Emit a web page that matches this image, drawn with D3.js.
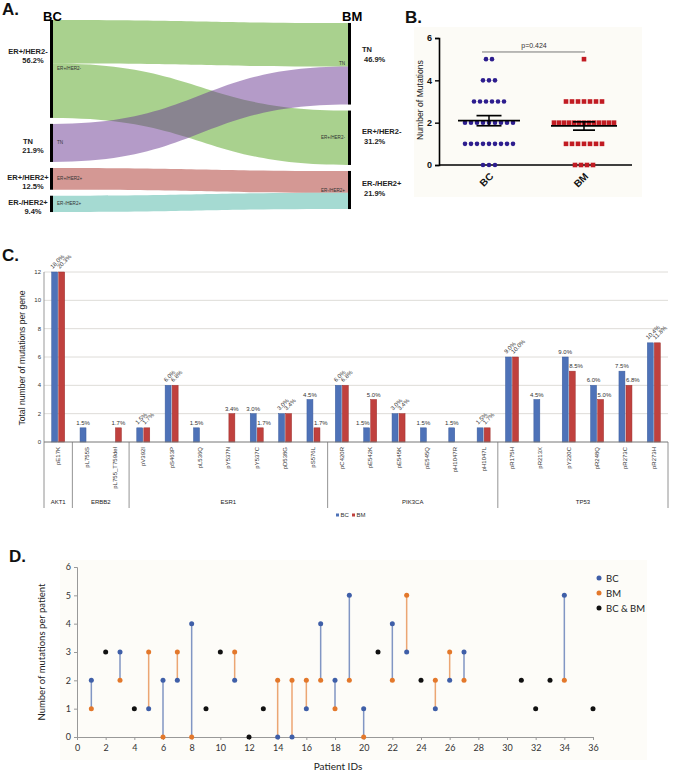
<!DOCTYPE html>
<html>
<head>
<meta charset="utf-8">
<script src="https://cdn.jsdelivr.net/npm/d3@7/dist/d3.min.js"></script>
<style>
html,body{margin:0;padding:0;background:#ffffff;}
svg{display:block;}
text{font-family:"Liberation Sans",Arial,Helvetica,sans-serif;}
.lato text, text.lato{font-family:Lato,"Open Sans",sans-serif;}
</style>
</head>
<body>
<svg id="fig" width="676" height="773"></svg>
<script>
// ================= DATA =================
// Panel A: subtype switch between BC and BM (patients)
const subtypesBC = ["ER+/HER2-", "TN", "ER+/HER2+", "ER-/HER2+"];
const subtypesBCPct = ["56.2%", "21.9%", "12.5%", "9.4%"];
const subtypesBM = ["TN", "ER+/HER2-", "ER-/HER2+"];
const subtypesBMPct = ["46.9%", "31.2%", "21.9%"];
const flowFrom = ["ER+/HER2-", "ER+/HER2-", "TN", "ER+/HER2+", "ER-/HER2+"];
const flowTo = ["TN", "ER+/HER2-", "TN", "ER-/HER2+", "ER-/HER2+"];
const flowPatients = [8, 10, 7, 4, 3];

// Panels B and D: mutations per patient
const groups = ["BC", "BM"];
const patientIds = [1,2,3,4,5,6,7,8,9,10,11,12,13,14,15,16,17,18,19,20,21,22,23,24,25,26,27,31,32,33,34,36];
const bcPerPatient = [2,3,3,1,1,2,2,4,1,3,2,0,1,0,0,1,4,2,5,1,3,4,3,2,1,2,3,2,1,2,5,1];
const bmPerPatient = [1,3,2,1,3,0,3,0,1,3,3,0,1,2,2,2,2,1,2,0,3,2,5,2,2,3,2,2,1,2,2,1];
const pValueText = "p=0.424";
const yTicksB = [0, 2, 4, 6];
const yTicksD = [0, 1, 2, 3, 4, 5, 6];
const xTicksD = [0,2,4,6,8,10,12,14,16,18,20,22,24,26,28,30,32,34,36];
const legendD = ["BC", "BM", "BC & BM"];

// Panel C: mutations per gene
const geneNames = ["AKT1", "ERBB2", "ESR1", "PIK3CA", "TP53"];
const mutationNames = ["pE17K","pL755S","pL755_T759del","pV392I","pS463P","pL536Q","pY537N","pY537C","pD538G","pS576L","pC420R","pE542K","pE545K","pE545Q","pH1047R","pH1047L","pR175H","pR213X","pY220C","pR248Q","pR273C","pR273H"];
const mutationGene = ["AKT1","ERBB2","ERBB2","ESR1","ESR1","ESR1","ESR1","ESR1","ESR1","ESR1","PIK3CA","PIK3CA","PIK3CA","PIK3CA","PIK3CA","PIK3CA","TP53","TP53","TP53","TP53","TP53","TP53"];
const bcPerMutation = [12,1,0,1,4,1,0,2,2,3,4,1,2,1,1,1,6,3,6,4,5,7];
const bmPerMutation = [12,0,1,1,4,0,2,1,2,1,4,3,2,0,0,1,6,0,5,3,4,7];
const bcPctLabels = ["18.0%","1.5%","","1.5%","6.0%","1.5%","","3.0%","3.0%","4.5%","6.0%","1.5%","3.0%","1.5%","1.5%","1.5%","9.0%","4.5%","9.0%","6.0%","7.5%","10.4%"];
const bmPctLabels = ["20.3%","","1.7%","1.7%","6.8%","","3.4%","1.7%","3.4%","1.7%","6.8%","5.0%","3.4%","","","1.7%","10.0%","","8.5%","5.0%","6.8%","11.8%"];
const yTicksC = [0, 2, 4, 6, 8, 10, 12];

// ================= DRAW =================
const svg = d3.select("#fig");

function panelLabel(t, x, y) {
  svg.append("text").attr("x", x).attr("y", y).attr("font-size", 17)
    .attr("font-weight", "bold").attr("fill", "#111").text(t);
}

// ---------- Panel A ----------
(function () {
  const g = svg.append("g");
  const nodeColor = {"ER+/HER2-": "#53a31d", "TN": "#693791", "ER+/HER2+": "#a93129", "ER-/HER2+": "#4bb5a5"};
  const xL = 53, xR = 348, centerY = 116, gap = 6;
  const h = d3.scaleLinear().domain([0, 1]).range([0, 5.44]);

  const leftCount = subtypesBC.map(s => d3.sum(flowPatients.filter((v, i) => flowFrom[i] === s)));
  const rightCount = subtypesBM.map(s => d3.sum(flowPatients.filter((v, i) => flowTo[i] === s)));

  function layout(names, counts) {
    const total = h(d3.sum(counts)) + gap * (names.length - 1);
    let y = centerY - total / 2;
    const out = {};
    names.forEach((n, i) => {
      out[n] = {name: n, y0: y, y1: y + h(counts[i]), cursor: y};
      y = out[n].y1 + gap;
    });
    return out;
  }
  const L = layout(subtypesBC, leftCount);
  const R = layout(subtypesBM, rightCount);

  const xm = (xL + xR) / 2;
  flowPatients.forEach((v, i) => {
    const s = L[flowFrom[i]], t = R[flowTo[i]];
    const s0 = s.cursor, s1 = s0 + h(v); s.cursor = s1;
    const t0 = t.cursor, t1 = t0 + h(v); t.cursor = t1;
    const p = d3.path();
    p.moveTo(xL, s0);
    p.bezierCurveTo(xm, s0, xm, t0, xR, t0);
    p.lineTo(xR, t1);
    p.bezierCurveTo(xm, t1, xm, s1, xL, s1);
    p.closePath();
    g.append("path").attr("d", p.toString()).attr("fill", nodeColor[flowFrom[i]]).attr("fill-opacity", 0.5);
  });

  // node bars
  Object.values(L).forEach(n => g.append("rect").attr("x", xL - 3).attr("y", n.y0).attr("width", 3).attr("height", n.y1 - n.y0).attr("fill", "#000"));
  Object.values(R).forEach(n => g.append("rect").attr("x", xR).attr("y", n.y0).attr("width", 3).attr("height", n.y1 - n.y0).attr("fill", "#000"));

  // inner small labels
  Object.values(L).forEach(n => g.append("text").attr("x", xL + 4).attr("y", (n.y0 + n.y1) / 2 + 1.5)
    .attr("font-size", 4.6).attr("fill", "#333").text(n.name));
  Object.values(R).forEach(n => g.append("text").attr("x", xR - 3).attr("y", (n.y0 + n.y1) / 2 + 1.5)
    .attr("text-anchor", "end").attr("font-size", 4.6).attr("fill", "#333").text(n.name));

  // outer labels
  subtypesBC.forEach((s, i) => {
    const n = L[s], c = (n.y0 + n.y1) / 2;
    const by = Math.min(c + 1, n.y0 + 34);
    g.append("text").attr("x", 28).attr("y", by).attr("text-anchor", "middle").attr("font-size", 7.5)
      .attr("font-weight", "bold").attr("fill", "#222").text(s);
    g.append("text").attr("x", 33).attr("y", by + 9).attr("text-anchor", "middle").attr("font-size", 7.5)
      .attr("font-weight", "bold").attr("fill", "#222").text(subtypesBCPct[i]);
  });
  subtypesBM.forEach((s, i) => {
    const n = R[s], c = (n.y0 + n.y1) / 2;
    const by = Math.min(c - 4, n.y0 + 29);
    g.append("text").attr("x", 362).attr("y", by).attr("font-size", 7.5)
      .attr("font-weight", "bold").attr("fill", "#222").text(s);
    g.append("text").attr("x", 364).attr("y", by + 10).attr("font-size", 7.5)
      .attr("font-weight", "bold").attr("fill", "#222").text(subtypesBMPct[i]);
  });

  g.append("text").attr("x", 43).attr("y", 21).attr("font-size", 13).attr("font-weight", "bold").text("BC");
  g.append("text").attr("x", 342).attr("y", 21).attr("font-size", 13).attr("font-weight", "bold").text("BM");
  panelLabel("A.", 2, 15);
})();

// ---------- Panel B ----------
(function () {
  const g = svg.append("g");
  g.append("rect").attr("x", 414).attr("y", 27).attr("width", 228).attr("height", 170).attr("fill", "#fcfbf6");
  const y = d3.scaleLinear().domain([0, 6]).range([165, 38]);
  const x = d3.scalePoint().domain(groups).range([489, 584]);
  const data = {BC: bcPerPatient, BM: bmPerPatient};

  const ax = g.append("g").attr("transform", "translate(439,0)")
    .call(d3.axisLeft(y).tickValues(yTicksB).tickSize(4).tickFormat(d3.format("d")));
  ax.select(".domain").attr("stroke", "#000").attr("stroke-width", 1.6);
  ax.selectAll(".tick line").attr("stroke", "#000").attr("stroke-width", 1.4);
  ax.selectAll(".tick text").attr("font-size", 9).attr("font-weight", "bold").attr("fill", "#111")
    .attr("font-family", "Liberation Sans, Arial, sans-serif");
  g.append("line").attr("x1", 439).attr("x2", 632).attr("y1", y(0)).attr("y2", y(0)).attr("stroke", "#000").attr("stroke-width", 1.6);

  groups.forEach(gr => {
    const vals = data[gr];
    const cx = x(gr);
    d3.range(0, 7).forEach(v => {
      const n = vals.filter(d => d === v).length;
      if (!n) return;
      const sp = n > 1 ? Math.min(6, 60 / (n - 1)) : 0;
      d3.range(n).forEach(j => {
        const px = cx + (j - (n - 1) / 2) * sp;
        if (gr === "BC") {
          g.append("circle").attr("cx", px).attr("cy", y(v)).attr("r", 2.3).attr("fill", "#2d1d8e");
        } else {
          g.append("rect").attr("x", px - 2.3).attr("y", y(v) - 2.3).attr("width", 4.6).attr("height", 4.6).attr("fill", "#c11b22");
        }
      });
    });
    const m = d3.mean(vals), sem = d3.deviation(vals) / Math.sqrt(vals.length);
    const half = gr === "BC" ? 31 : 33, cap = gr === "BC" ? 12.5 : 11;
    g.append("line").attr("x1", cx - half).attr("x2", cx + half).attr("y1", y(m)).attr("y2", y(m)).attr("stroke", "#000").attr("stroke-width", 1.7);
    g.append("line").attr("x1", cx).attr("x2", cx).attr("y1", y(m - sem)).attr("y2", y(m + sem)).attr("stroke", "#000").attr("stroke-width", 1.5);
    [m - sem, m + sem].forEach(e => g.append("line").attr("x1", cx - cap).attr("x2", cx + cap).attr("y1", y(e)).attr("y2", y(e)).attr("stroke", "#000").attr("stroke-width", 1.7));
    g.append("text").attr("transform", `translate(${cx + 5},${177}) rotate(-45)`).attr("text-anchor", "end")
      .attr("font-size", 10).attr("font-weight", "bold").attr("fill", "#111").text(gr);
  });

  g.append("line").attr("x1", 482).attr("x2", 585).attr("y1", y(5.34)).attr("y2", y(5.34)).attr("stroke", "#777").attr("stroke-width", 1);
  g.append("text").attr("x", 534).attr("y", y(5.34) - 4).attr("text-anchor", "middle").attr("font-size", 7).attr("fill", "#333").text(pValueText);
  g.append("text").attr("transform", "translate(423,100) rotate(-90)").attr("text-anchor", "middle")
    .attr("font-size", 8.6).attr("fill", "#222").text("Number of Mutations");
  panelLabel("B.", 405, 23);
})();

// ---------- Panel C ----------
(function () {
  const g = svg.append("g");
  const x = d3.scaleBand().domain(mutationNames).range([44, 668]);
  const bw = x.bandwidth();
  const xi = d3.scaleBand().domain(groups).range([bw / 2 - 6.5, bw / 2 + 6.5]).paddingInner(0.15);
  const y = d3.scaleLinear().domain([0, 12]).range([442, 272]);
  const col = {BC: "#4e72b8", BM: "#c0413e"}, stk = {BC: "#3b5c9c", BM: "#9c2f2c"};

  yTicksC.forEach(t => {
    if (t > 0) g.append("line").attr("x1", 44).attr("x2", 668).attr("y1", y(t)).attr("y2", y(t)).attr("stroke", "#dedcd8").attr("stroke-width", 1);
    g.append("text").attr("x", 41).attr("y", y(t) + 2).attr("text-anchor", "end").attr("font-size", 6).attr("fill", "#333").text(t);
  });
  g.append("line").attr("x1", 44).attr("x2", 44).attr("y1", 272).attr("y2", 442).attr("stroke", "#999");

  mutationNames.forEach((m, i) => {
    const vals = {BC: bcPerMutation[i], BM: bmPerMutation[i]};
    const labs = {BC: bcPctLabels[i], BM: bmPctLabels[i]};
    const rotated = vals.BC === vals.BM && vals.BC > 0;
    const both = vals.BC > 0 && vals.BM > 0;
    groups.forEach(gr => {
      const v = vals[gr];
      if (!v) return;
      const bx = x(m) + xi(gr);
      g.append("rect").attr("x", bx).attr("y", y(v)).attr("width", xi.bandwidth()).attr("height", y(0) - y(v))
        .attr("fill", col[gr]).attr("stroke", stk[gr]).attr("stroke-width", 0.5);
      if (rotated) {
        g.append("text").attr("transform", `translate(${bx + 1},${y(v) - 3}) rotate(-45)`)
          .attr("font-size", 6).attr("fill", "#333").text(labs[gr]);
      } else {
        // the lower bar of a pair gets its label pushed away from the taller neighbour
        const other = gr === "BC" ? vals.BM : vals.BC;
        let lx = bx + xi.bandwidth() / 2, anchor = "middle";
        if (both && v < other) {
          if (gr === "BM") { lx = bx; anchor = "start"; } else { lx = bx + xi.bandwidth(); anchor = "end"; }
        }
        g.append("text").attr("x", lx).attr("y", y(v) - 3).attr("text-anchor", anchor)
          .attr("font-size", 6).attr("fill", "#333").text(labs[gr]);
      }
    });
    g.append("text").attr("transform", `translate(${x(m) + bw / 2 + 2},447) rotate(-90)`).attr("text-anchor", "end")
      .attr("font-size", 6).attr("fill", "#333").text(m);
  });
  g.append("line").attr("x1", 44).attr("x2", 668).attr("y1", 442).attr("y2", 442).attr("stroke", "#777");

  // gene groups
  const bounds = new Set([44, 668]);
  geneNames.forEach(gn => {
    const idx = mutationNames.map((m, i) => i).filter(i => mutationGene[i] === gn);
    const a = x(mutationNames[idx[0]]), b = x(mutationNames[idx[idx.length - 1]]) + bw;
    bounds.add(a); bounds.add(b);
    g.append("text").attr("x", (a + b) / 2).attr("y", 504).attr("text-anchor", "middle").attr("font-size", 6).attr("fill", "#222").text(gn);
  });
  [...bounds].forEach(bx => g.append("line").attr("x1", bx).attr("x2", bx).attr("y1", 442).attr("y2", 508).attr("stroke", "#777").attr("stroke-width", 0.8));

  // legend
  const lg = g.append("g").attr("transform", "translate(336,517)");
  groups.forEach((gr, i) => {
    lg.append("rect").attr("x", i * 16).attr("y", -3.5).attr("width", 3).attr("height", 3).attr("fill", col[gr]);
    lg.append("text").attr("x", i * 16 + 4.5).attr("y", 0).attr("font-size", 6).attr("fill", "#333").text(gr);
  });

  g.append("text").attr("transform", "translate(25,358) rotate(-90)").attr("text-anchor", "middle")
    .attr("font-size", 8.6).attr("fill", "#222").text("Total number of mutations per gene");
  panelLabel("C.", 2, 261);
})();

// ---------- Panel D ----------
(function () {
  const g = svg.append("g").attr("class", "lato");
  g.append("rect").attr("x", 60).attr("y", 560).attr("width", 587).attr("height", 200).attr("fill", "#fdfcf8");
  const x = d3.scaleLinear().domain([0, 36]).range([77, 593]);
  const y = d3.scaleLinear().domain([0, 6]).range([737, 567]);
  const col = {BC: "#3f5fa8", BM: "#e3782b", both: "#111"};

  const ay = g.append("g").attr("transform", "translate(77,0)")
    .call(d3.axisLeft(y).tickValues(yTicksD).tickSize(3).tickFormat(d3.format("d")));
  const axb = g.append("g").attr("transform", "translate(0,737)")
    .call(d3.axisBottom(x).tickValues(xTicksD).tickSize(3).tickFormat(d3.format("d")));
  [ay, axb].forEach(a => {
    a.select(".domain").attr("stroke", "#999");
    a.selectAll(".tick line").attr("stroke", "#999");
    a.selectAll(".tick text").attr("font-size", 9).attr("fill", "#333").attr("font-family", "Lato, sans-serif");
  });
  axb.selectAll(".tick text").attr("dy", "0.9em");

  patientIds.forEach((id, i) => {
    const b = bcPerPatient[i], m = bmPerPatient[i];
    if (b !== m) {
      const top = b > m ? "BC" : "BM";
      g.append("line").attr("x1", x(id)).attr("x2", x(id)).attr("y1", y(b)).attr("y2", y(m))
        .attr("stroke", col[top]).attr("stroke-opacity", 0.65).attr("stroke-width", 1.5);
    }
  });
  patientIds.forEach((id, i) => {
    const b = bcPerPatient[i], m = bmPerPatient[i];
    if (b === m) {
      g.append("circle").attr("cx", x(id)).attr("cy", y(b)).attr("r", 2.5).attr("fill", col.both);
    } else {
      g.append("circle").attr("cx", x(id)).attr("cy", y(b)).attr("r", 2.5).attr("fill", col.BC);
      g.append("circle").attr("cx", x(id)).attr("cy", y(m)).attr("r", 2.5).attr("fill", col.BM);
    }
  });

  const lc = [col.BC, col.BM, col.both];
  legendD.forEach((t, i) => {
    g.append("circle").attr("cx", 599).attr("cy", 578 + i * 15).attr("r", 2.5).attr("fill", lc[i]);
    g.append("text").attr("x", 606).attr("y", 581.5 + i * 15).attr("font-size", 9.5).attr("fill", "#222").text(t);
  });

  g.append("text").attr("x", 338).attr("y", 770).attr("text-anchor", "middle").attr("font-size", 10).attr("fill", "#222").text("Patient IDs");
  g.append("text").attr("transform", "translate(45,652) rotate(-90)").attr("text-anchor", "middle")
    .attr("font-size", 9.5).attr("fill", "#222").text("Number of mutations per patient");
  panelLabel("D.", 9, 562);
})();
</script>
</body>
</html>
